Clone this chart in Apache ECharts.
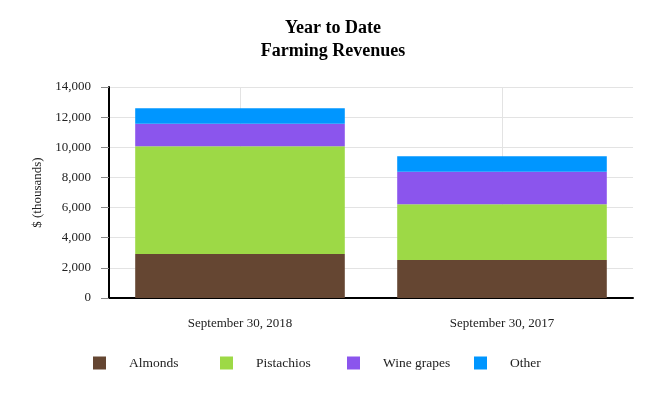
<!DOCTYPE html>
<html>
<head>
<meta charset="utf-8">
<script src="https://cdn.jsdelivr.net/npm/echarts@6/dist/echarts.min.js"></script>
<style>
html, body { margin: 0; padding: 0; background: #fff; }
#chart { width: 666px; height: 400px; }
</style>
</head>
<body>
<div id="chart"></div>
<script>
// data, $ thousands
const categories = ["September 30, 2018", "September 30, 2017"];
const almonds = [2920, 2520];
const pistachios = [7146, 3700];
const wineGrapes = [1500, 2163];
const other = [1022, 1022];

const seriesNames = ["Almonds", "Pistachios", "Wine grapes", "Other"];
const seriesColors = ["#654632", "#9dd946", "#8b55ed", "#0096ff"];

const FONT = "Liberation Serif, Times New Roman, serif";

const chart = echarts.init(document.getElementById("chart"));

function makeBar(name, values, color) {
    return {
        name: name,
        type: "bar",
        stack: "total",
        barWidth: "80%",
        data: values,
        itemStyle: { color: color },
        emphasis: { disabled: true }
    };
}

const series = [
    makeBar(seriesNames[0], almonds, seriesColors[0]),
    makeBar(seriesNames[1], pistachios, seriesColors[1]),
    makeBar(seriesNames[2], wineGrapes, seriesColors[2]),
    makeBar(seriesNames[3], other, seriesColors[3])
];

// vertical grid lines through category centres, behind the bars
series[0].markLine = {
    silent: true,
    symbol: "none",
    z: 0,
    label: { show: false },
    lineStyle: { color: "#e3e3e3", width: 1, type: "solid" },
    data: categories.map(function (c) { return { xAxis: c }; })
};

// one legend per item so they sit on an even 127px pitch
const legends = seriesNames.map(function (n, i) {
    return {
        data: [n],
        left: 88 + i * 127,
        top: 351,
        itemWidth: 13,
        itemHeight: 13,
        icon: "rect",
        selectedMode: false,
        textStyle: {
            fontFamily: FONT,
            fontSize: 13.5,
            color: "#222",
            padding: [0, 0, 0, 18]
        }
    };
});

chart.setOption({
    animation: false,
    title: {
        text: "Year to Date\nFarming Revenues",
        left: "center",
        top: 12,
        textStyle: {
            fontFamily: FONT,
            fontWeight: "bold",
            fontSize: 18,
            lineHeight: 23,
            color: "#000"
        }
    },
    legend: legends,
    grid: {
        left: 109,
        right: 33,
        top: 87,
        bottom: 102,
        containLabel: false
    },
    xAxis: {
        type: "category",
        data: categories,
        axisLine: { lineStyle: { color: "#000", width: 2 } },
        axisTick: { alignWithLabel: true, length: 5, lineStyle: { color: "#888" } },
        axisLabel: { margin: 19, fontFamily: FONT, fontSize: 13, color: "#222" },
        splitLine: { show: false }
    },
    yAxis: {
        type: "value",
        min: 0,
        max: 14000,
        interval: 2000,
        name: "$ (thousands)",
        nameLocation: "middle",
        nameGap: 64,
        nameTextStyle: { fontFamily: FONT, fontSize: 13, color: "#222" },
        axisLine: { show: true, lineStyle: { color: "#000", width: 2 } },
        axisTick: { show: true, length: 8, lineStyle: { color: "#888" } },
        axisLabel: {
            margin: 18,
            fontFamily: FONT,
            fontSize: 13,
            color: "#222",
            formatter: function (v) { return v.toLocaleString("en-US"); }
        },
        splitLine: { lineStyle: { color: "#e3e3e3" } }
    },
    series: series
});
</script>
</body>
</html>
